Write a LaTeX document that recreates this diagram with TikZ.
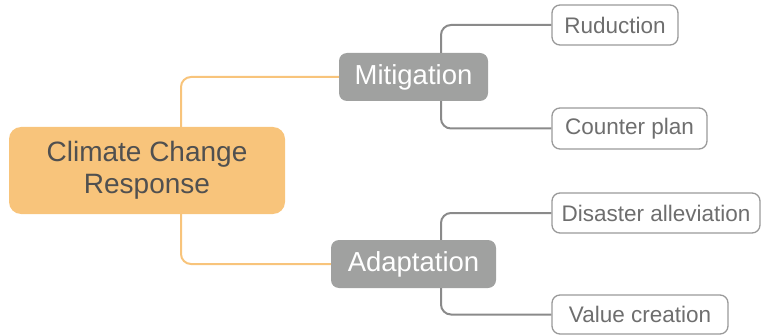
\documentclass[tikz,border=0pt]{standalone}
\usepackage{fontspec}
\setmainfont{Liberation Sans}
\definecolor{rootfill}{HTML}{F8C47B}
\definecolor{rootline}{HTML}{F8C47B}
\definecolor{midfill}{HTML}{A0A1A0}
\definecolor{leafline}{HTML}{9A9A9A}
\definecolor{leaftext}{HTML}{6E6E6E}
\definecolor{roottext}{HTML}{505050}
\definecolor{grayline}{HTML}{8A8A8A}
\begin{document}
\begin{tikzpicture}[x=1pt,y=1pt,
  rootbox/.style={rectangle,rounded corners=12pt,fill=rootfill,inner sep=0pt,
    text=roottext,font=\fontsize{28}{32}\selectfont,align=center},
  midbox/.style={rectangle,rounded corners=8pt,fill=midfill,inner sep=0pt,
    text=white,font=\fontsize{27.5}{32}\selectfont},
  leafbox/.style={rectangle,rounded corners=8pt,draw=leafline,line width=1.3pt,fill=white,
    inner sep=0pt,text=leaftext,font=\fontsize{22.5}{26}\selectfont},
  orangecon/.style={draw=rootline,line width=2pt,rounded corners=10pt},
  graycon/.style={draw=grayline,line width=2pt,rounded corners=10pt}]
\useasboundingbox (0,0) rectangle (762,335);
% nodes
\node[rootbox,minimum width=276pt,minimum height=87pt] (root) at (147,164.5) {\raisebox{-3pt}{\shortstack{Climate Change\\[4pt]Response}}};
\node[midbox,minimum width=149pt,minimum height=48pt] (mit) at (413.5,258) {\raisebox{-2.5pt}{Mitigation}};
\node[midbox,minimum width=165pt,minimum height=48pt] (ada) at (413.5,71) {\raisebox{-2.5pt}{Adaptation}};
\node[leafbox,minimum width=126pt,minimum height=40pt] (red) at (615,310) {\raisebox{-1.5pt}{Ruduction}};
\node[leafbox,minimum width=155pt,minimum height=41pt] (cp) at (629.5,206.5) {\raisebox{-1.5pt}{Counter plan}};
\node[leafbox,minimum width=208pt,minimum height=40pt] (dis) at (656,122) {\raisebox{-1.5pt}{Disaster alleviation}};
\node[leafbox,minimum width=176pt,minimum height=39pt] (val) at (640,20.5) {\raisebox{-1.5pt}{Value creation}};
% connector anchors
\coordinate (rt) at (181,0 |- root.north);
\coordinate (rb) at (181,0 |- root.south);
\coordinate (mt) at (441,0 |- mit.north);
\coordinate (mb) at (441,0 |- mit.south);
\coordinate (at) at (441,0 |- ada.north);
\coordinate (ab) at (441,0 |- ada.south);
% connectors
\draw[orangecon] (rt) |- (mit.west);
\draw[orangecon] (rb) |- (ada.west);
\draw[graycon] (mt) |- (red.west);
\draw[graycon] (mb) |- (cp.west);
\draw[graycon] (at) |- (dis.west);
\draw[graycon] (ab) |- (val.west);
\end{tikzpicture}
\end{document}
